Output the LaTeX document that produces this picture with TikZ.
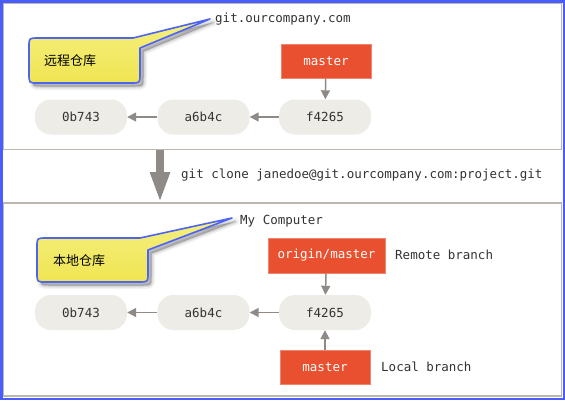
\documentclass[tikz,border=0pt]{standalone}
\usepackage{fontspec}
\newfontfamily\monofont{DejaVu Sans Mono}
\newfontfamily\cjk{Noto Sans CJK SC}
\usetikzlibrary{arrows.meta,shadows}
\definecolor{outerblue}{HTML}{4A5CFF}
\definecolor{panelgray}{HTML}{BDB6AE}
\definecolor{gitred}{HTML}{E9502F}
\definecolor{commitfill}{HTML}{EDECE6}
\definecolor{arrowgray}{HTML}{8F8A85}
\definecolor{txtgray}{HTML}{333333}
\definecolor{calloutfill}{HTML}{F2EA60}
\definecolor{callouttop}{HTML}{F5EF80}
\definecolor{calloutbot}{HTML}{EFE552}
\definecolor{calloutline}{HTML}{4D63F5}
\tikzset{
  panel/.style={draw=panelgray, line width=1.2pt, inner sep=0pt},
  commit/.style={fill=commitfill, rounded corners=16pt, minimum width=92pt, minimum height=35pt,
     inner sep=0pt, font=\monofont\fontsize{12.5}{14}\selectfont, text=txtgray},
  branch/.style={fill=gitred, draw=gitred!70!white, line width=0.6pt, minimum height=34pt, inner sep=0pt,
     font=\monofont\fontsize{12.5}{14}\selectfont, text=white},
  label/.style={anchor=west, inner sep=0pt, font=\monofont\fontsize{12.5}{14}\selectfont, text=txtgray},
  cjklabel/.style={anchor=west, inner sep=0pt, font=\cjk\fontsize{13}{15}\selectfont, text=black},
  conn/.style={draw=arrowgray, line width=1.5pt, -{Triangle[length=9pt,width=9pt]}},
  softshadow/.style={
     preaction={draw=black, line width=7pt, line join=round, opacity=0.05, transform canvas={shift={(3.5,3.5)}}},
     preaction={draw=black, line width=4pt, line join=round, opacity=0.07, transform canvas={shift={(3.5,3.5)}}},
     preaction={draw=black, line width=1.5pt, line join=round, opacity=0.09, transform canvas={shift={(3.5,3.5)}}},
     preaction={fill=black, opacity=0.22, transform canvas={shift={(3.5,3.5)}}}},
  callout/.style={softshadow, top color=callouttop, bottom color=calloutbot, draw=calloutline,
     line width=1.6pt, line join=round},
}
\begin{document}
\begin{tikzpicture}[x=1pt,y=-1pt]
\useasboundingbox (0,0) rectangle (565,400);
\fill[white] (0,0) rectangle (565,400);
% outer frame
\draw[outerblue, line width=2.5pt] (1.25,1.25) rectangle (563.75,398.75);
% panels
\node[panel, minimum width=558pt, minimum height=146pt] (remotepanel) at (282.5,76.5) {};
\node[panel, minimum width=558pt, minimum height=193pt] (localpanel) at (282.5,299.5) {};

% big clone arrow
\coordinate (cloneA) at (160,150);
\coordinate (cloneB) at (160,203);
\draw[arrowgray, line width=8pt, -{Triangle[length=31pt,width=18pt]}] (cloneA) -- (cloneB);
\node[label] (clonetxt) at (181,175) {git clone janedoe@git.ourcompany.com:project.git};

% ---- remote ----
\node[label] (server) at (215,19) {git.ourcompany.com};
\coordinate (tipA) at (210,19);
\draw[callout] (tipA) -- (133,38) -- (38,38) .. controls (29,38) .. (29,47) -- (29,74)
  .. controls (29,83) .. (38,83) -- (131,83) .. controls (140,83) .. (140,74) -- (140,48) -- cycle;
\node[cjklabel] (remoteLbl) at (44,61) {远程仓库};

\node[commit] (r0) at (81,117) {0b743};
\node[commit] (r1) at (203.5,117) {a6b4c};
\node[commit] (r2) at (325,117) {f4265};
\node[branch, minimum width=90pt] (rmaster) at (326,61) {master};
\draw[conn] (r1) -- (r0);
\draw[conn] (r2) -- (r1);
\draw[conn] (rmaster) -- (r2);

% ---- local ----
\node[label] (mycomp) at (240,221) {My Computer};
\coordinate (tipB) at (232,218);
\draw[callout] (tipB) -- (140,238) -- (46,238) .. controls (37,238) .. (37,247) -- (37,273)
  .. controls (37,282) .. (46,282) -- (139,282) .. controls (148,282) .. (148,273) -- (148,250) -- cycle;
\node[cjklabel] (localLbl) at (53,261) {本地仓库};

\node[commit] (l0) at (81,312.5) {0b743};
\node[commit] (l1) at (203.5,312.5) {a6b4c};
\node[commit] (l2) at (325,312.5) {f4265};
\node[branch, minimum width=117pt, minimum height=35pt] (origin) at (326.5,255.5) {origin/master};
\node[branch, minimum width=90pt] (lmaster) at (325,367) {master};
\node[label] (remoteBr) at (395,255) {Remote branch};
\node[label] (localBr) at (381,367) {Local branch};
\draw[conn] (l1) -- (l0);
\draw[conn] (l2) -- (l1);
\draw[conn] (origin) -- (l2);
\draw[conn] (lmaster) -- (l2);
\end{tikzpicture}
\end{document}
